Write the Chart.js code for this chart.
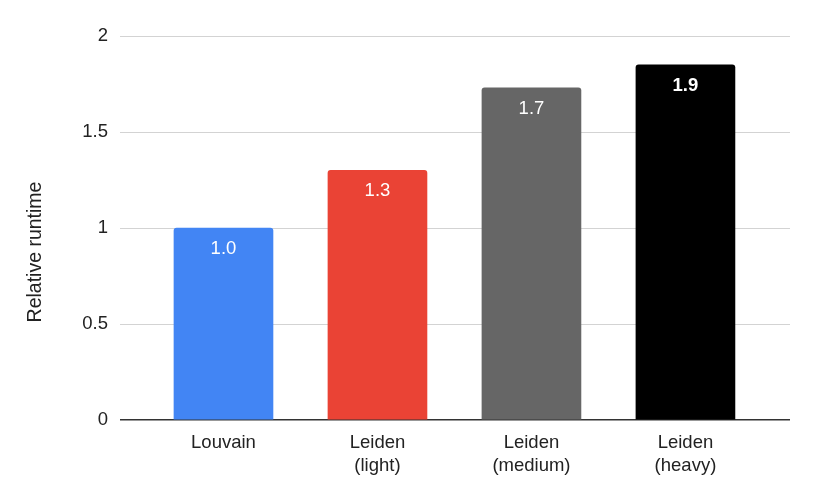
<!DOCTYPE html>
<html>
<head>
<meta charset="utf-8">
<script src="https://cdn.jsdelivr.net/npm/chart.js@4/dist/chart.umd.min.js"></script>
<style>
  html, body { margin: 0; padding: 0; background: #fff; }
  #wrap { width: 814px; height: 500px; }
</style>
</head>
<body>
<div id="wrap"><canvas id="chart" width="814" height="500"></canvas></div>
<script>
// Data
const categories = [['Louvain'], ['Leiden', '(light)'], ['Leiden', '(medium)'], ['Leiden', '(heavy)']];
const runtimes = [1.0, 1.3, 1.73, 1.85];
const valueLabels = ['1.0', '1.3', '1.7', '1.9'];
const barColors = ['#4285F4', '#EA4335', '#666666', '#000000'];
const yTicks = [0, 0.5, 1, 1.5, 2];
const yTitle = 'Relative runtime';

const FONT = "'Liberation Sans', Arial, sans-serif";
const FS = 18.5;

// white value labels inside the top of each bar + y axis title
const barLabels = {
  id: 'barLabels',
  afterDatasetsDraw(chart) {
    const ctx = chart.ctx;
    const meta = chart.getDatasetMeta(0);
    ctx.save();
    ctx.textAlign = 'center';
    ctx.textBaseline = 'middle';
    meta.data.forEach((bar, i) => {
      const last = i === meta.data.length - 1;
      ctx.font = (last ? 'bold ' : '') + FS + 'px ' + FONT;
      ctx.fillStyle = '#ffffff';
      ctx.fillText(valueLabels[i], bar.x, bar.y + 21);
    });

    // Sheets-style axis title, sits a bit below the plot's middle
    const area = chart.chartArea;
    ctx.translate(36, (area.top + area.bottom) / 2 + 24);
    ctx.rotate(-Math.PI / 2);
    ctx.font = '19.5px ' + FONT;
    ctx.fillStyle = '#222';
    ctx.fillText(yTitle, 0, 0);
    ctx.restore();
  }
};

new Chart(document.getElementById('chart').getContext('2d'), {
  type: 'bar',
  data: {
    datasets: [{
      data: runtimes.map((v, i) => ({ x: i, y: v })),
      backgroundColor: barColors,
      borderRadius: 3,
      borderSkipped: 'start',
      barThickness: 99
    }]
  },
  options: {
    responsive: false,
    animation: false,
    layout: { padding: { top: 36, right: 24, left: 0, bottom: 0 } },
    plugins: { legend: { display: false }, tooltip: { enabled: false } },
    scales: {
      x: {
        type: 'linear',
        offset: false,
        min: -0.672,
        max: 3.679,
        afterBuildTicks: s => { s.ticks = categories.map((c, i) => ({ value: i })); },
        afterFit: s => { s.height = 80; },
        grid: { display: false },
        border: { display: false },
        ticks: {
          autoSkip: false,
          maxRotation: 0,
          padding: 3,
          color: '#222',
          font: { family: FONT, size: FS, lineHeight: 1.25 },
          callback: (v) => categories[v]
        }
      },
      y: {
        min: 0,
        max: 2,
        afterBuildTicks: s => { s.ticks = yTicks.map(v => ({ value: v })); },
        afterFit: s => { s.width = 120; },
        border: { display: false },
        grid: {
          drawTicks: false,
          color: c => c.tick.value === 0 ? '#333333' : '#d3d3d3',
          lineWidth: c => c.tick.value === 0 ? 1.5 : 1
        },
        ticks: {
          padding: 12,
          color: '#222',
          font: { family: FONT, size: FS },
          callback: v => String(v)
        }
      }
    }
  },
  plugins: [barLabels]
});
</script>
</body>
</html>
